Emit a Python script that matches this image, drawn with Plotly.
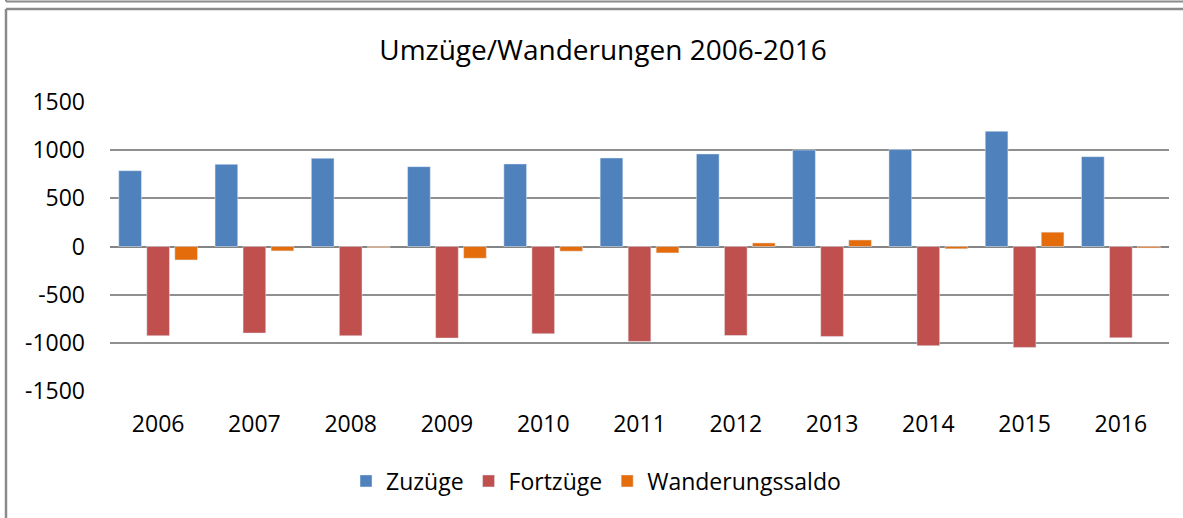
import plotly.graph_objects as go

years = ["2006", "2007", "2008", "2009", "2010", "2011", "2012", "2013", "2014", "2015", "2016"]
zuzuege = [788, 854, 917, 830, 858, 920, 962, 1003, 1007, 1198, 934]
fortzuege = [-928, -900, -928, -952, -907, -987, -925, -935, -1031, -1049, -949]
saldo = [-140, -46, -11, -122, -49, -67, 37, 68, -24, 149, -15]
y_ticks = [-1500, -1000, -500, 0, 500, 1000, 1500]
y_tick_labels = ["-1500", "-1000", "-500", "0", "500", "1000", "1500"]

W, H = 1183, 518
ML, MR, MT, MB = 110, 14, 102, 127
PW, PH = W - ML - MR, H - MT - MB


def px_x(px):
    return (px - ML) / PW


def px_y(py):
    return (H - MB - py) / PH


FONT = "Open Sans, Noto Sans, sans-serif"

fig = go.Figure()
fig.add_trace(go.Bar(name="Zuzüge", x=years, y=zuzuege, marker_color="#4F81BD"))
fig.add_trace(go.Bar(name="Fortzüge", x=years, y=fortzuege, marker_color="#C0504D"))
fig.add_trace(go.Bar(name="Wanderungssaldo", x=years, y=saldo, marker_color="#E46C0A"))

frame = "#8a8a8a"
shapes = [
    # remnant of frame above
    dict(type="line", xref="paper", yref="paper", x0=px_x(6), x1=px_x(W + 5), y0=px_y(1.5), y1=px_y(1.5),
         line=dict(color=frame, width=2)),
    dict(type="line", xref="paper", yref="paper", x0=px_x(6), x1=px_x(6), y0=px_y(-5), y1=px_y(1.5),
         line=dict(color=frame, width=2)),
    # chart frame
    dict(type="line", xref="paper", yref="paper", x0=px_x(6), x1=px_x(W + 5), y0=px_y(9), y1=px_y(9),
         line=dict(color=frame, width=2.5)),
    dict(type="line", xref="paper", yref="paper", x0=px_x(6), x1=px_x(6), y0=px_y(9), y1=px_y(H + 5),
         line=dict(color=frame, width=2.5)),
]

fig.update_layout(
    width=W, height=H,
    margin=dict(l=ML, r=MR, t=MT, b=MB, pad=0),
    paper_bgcolor="white", plot_bgcolor="white",
    font=dict(family=FONT, size=23, color="#000000"),
    title=dict(text="Umzüge/Wanderungen 2006-2016", x=603 / W, xanchor="center",
               y=1 - 50 / H, yanchor="middle", yref="container",
               font=dict(family=FONT, size=28, color="#000000")),
    barmode="group", bargap=0.127, bargroupgap=0.19,
    showlegend=True,
    legend=dict(orientation="h", x=px_x(596), xanchor="center", y=px_y(481), yanchor="middle",
                font=dict(family=FONT, size=23), itemwidth=30, tracegroupgap=0,
                bgcolor="rgba(0,0,0,0)"),
    shapes=shapes,
)
fig.update_xaxes(showgrid=False, showline=False, zeroline=False, ticks="",
                 tickfont=dict(family=FONT, size=23), ticklabelstandoff=17)
fig.update_yaxes(range=[-1502, 1502], tickvals=y_ticks, ticktext=y_tick_labels,
                 showgrid=True, gridcolor="#8f8f8f", gridwidth=1.6,
                 zeroline=True, zerolinecolor="#858585", zerolinewidth=2.4, showline=False, ticks="",
                 tickfont=dict(family=FONT, size=23), ticklabelstandoff=24)

fig.write_html("out.html", config={"displayModeBar": False},
               post_script="document.body.style.margin='0';document.body.style.overflow='hidden';")
